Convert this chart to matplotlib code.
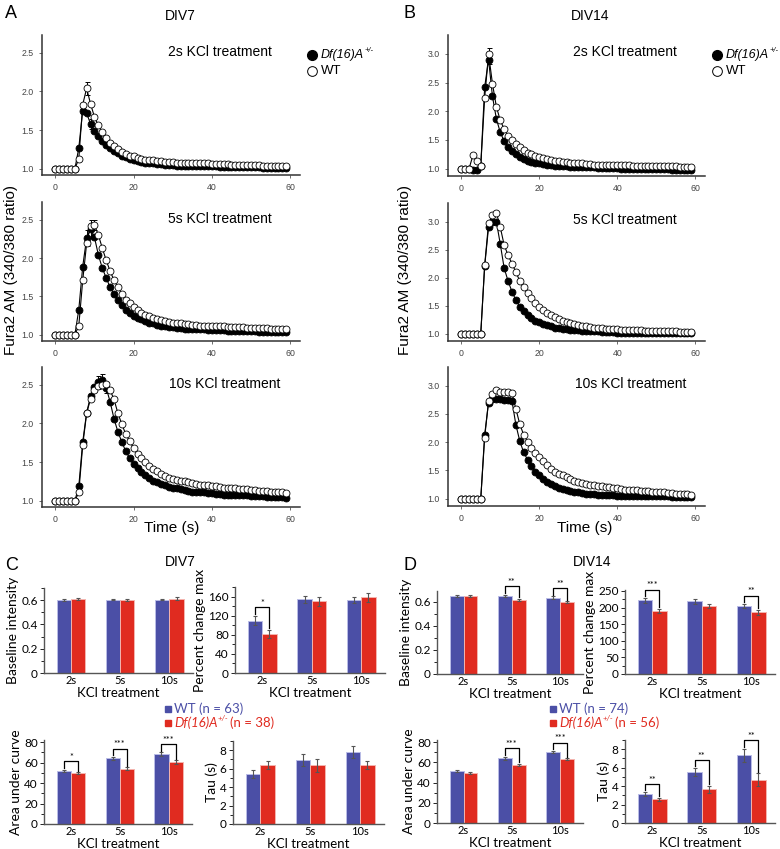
import numpy as np
import matplotlib
matplotlib.use("Agg")
import matplotlib.pyplot as plt
from matplotlib.lines import Line2D
from matplotlib.ticker import MultipleLocator, FuncFormatter

plt.rcParams['font.family'] = ['Liberation Sans', 'DejaVu Sans']

# ---- calcium traces (Fura2 ratio), one point per second ----
time = np.arange(60)

a2_wt = [1.0, 1.0, 1.0, 1.0, 1.0, 1.0, 1.13, 1.83, 2.04, 1.84, 1.67, 1.56, 1.47, 1.40, 1.34, 1.29, 1.25, 1.22, 1.19, 1.17,
         1.16, 1.14, 1.13, 1.12, 1.11, 1.11, 1.10, 1.10, 1.09, 1.09, 1.09, 1.08, 1.08, 1.08, 1.07, 1.07, 1.07, 1.07, 1.07, 1.07,
         1.06, 1.06, 1.06, 1.06, 1.06, 1.05, 1.05, 1.05, 1.05, 1.05, 1.05, 1.05, 1.05, 1.04, 1.04, 1.04, 1.04, 1.04, 1.04, 1.04]
a2_df = [1.0, 1.0, 1.0, 1.0, 1.0, 1.0, 1.27, 1.75, 1.72, 1.58, 1.49, 1.42, 1.36, 1.31, 1.27, 1.23, 1.20, 1.17, 1.15, 1.13,
         1.12, 1.10, 1.09, 1.08, 1.08, 1.07, 1.06, 1.06, 1.05, 1.05, 1.05, 1.04, 1.04, 1.04, 1.04, 1.03, 1.03, 1.03, 1.03, 1.03,
         1.03, 1.03, 1.02, 1.02, 1.02, 1.02, 1.02, 1.02, 1.02, 1.02, 1.02, 1.02, 1.02, 1.01, 1.01, 1.01, 1.01, 1.01, 1.01, 1.01]
a5_wt = [1.0, 1.0, 1.0, 1.0, 1.0, 1.0, 1.12, 1.71, 2.19, 2.42, 2.43, 2.30, 2.13, 1.97, 1.83, 1.71, 1.62, 1.53, 1.46, 1.41,
         1.36, 1.32, 1.29, 1.26, 1.24, 1.22, 1.20, 1.19, 1.18, 1.17, 1.16, 1.15, 1.15, 1.14, 1.14, 1.13, 1.13, 1.12, 1.12, 1.12,
         1.11, 1.11, 1.11, 1.11, 1.10, 1.10, 1.10, 1.10, 1.10, 1.09, 1.09, 1.09, 1.09, 1.09, 1.09, 1.08, 1.08, 1.08, 1.08, 1.08]
a5_df = [1.0, 1.0, 1.0, 1.0, 1.0, 1.0, 1.33, 1.89, 2.26, 2.38, 2.27, 2.04, 1.87, 1.74, 1.62, 1.53, 1.45, 1.39, 1.33, 1.29,
         1.25, 1.22, 1.20, 1.18, 1.16, 1.15, 1.13, 1.12, 1.11, 1.10, 1.10, 1.09, 1.09, 1.08, 1.08, 1.07, 1.07, 1.07, 1.07, 1.06,
         1.06, 1.06, 1.06, 1.06, 1.05, 1.05, 1.05, 1.05, 1.05, 1.05, 1.05, 1.05, 1.04, 1.04, 1.04, 1.04, 1.04, 1.04, 1.04, 1.04]
a10_wt = [1.0, 1.0, 1.0, 1.0, 1.0, 1.0, 1.11, 1.72, 2.13, 2.32, 2.43, 2.48, 2.50, 2.51, 2.43, 2.31, 2.13, 1.99, 1.86, 1.77,
          1.68, 1.61, 1.55, 1.50, 1.45, 1.41, 1.38, 1.35, 1.32, 1.30, 1.28, 1.27, 1.26, 1.25, 1.24, 1.23, 1.22, 1.21, 1.21, 1.20,
          1.19, 1.19, 1.18, 1.17, 1.17, 1.16, 1.16, 1.15, 1.15, 1.15, 1.14, 1.14, 1.13, 1.13, 1.13, 1.12, 1.12, 1.11, 1.11, 1.10]
a10_df = [1.0, 1.0, 1.0, 1.0, 1.0, 1.0, 1.19, 1.76, 2.14, 2.35, 2.47, 2.53, 2.56, 2.46, 2.28, 2.06, 1.89, 1.76, 1.64, 1.55,
          1.48, 1.42, 1.37, 1.33, 1.29, 1.26, 1.24, 1.22, 1.20, 1.18, 1.17, 1.16, 1.15, 1.14, 1.13, 1.12, 1.12, 1.11, 1.11, 1.10,
          1.10, 1.09, 1.09, 1.08, 1.08, 1.08, 1.07, 1.07, 1.07, 1.07, 1.06, 1.06, 1.06, 1.06, 1.05, 1.05, 1.05, 1.05, 1.05, 1.04]

b2_wt = [1.0, 1.0, 1.0, 1.23, 1.14, 1.05, 2.23, 3.00, 2.48, 2.08, 1.84, 1.69, 1.57, 1.49, 1.42, 1.37, 1.32, 1.28, 1.25, 1.22,
         1.20, 1.18, 1.16, 1.15, 1.14, 1.13, 1.12, 1.11, 1.10, 1.10, 1.09, 1.09, 1.08, 1.08, 1.07, 1.07, 1.07, 1.07, 1.06, 1.06,
         1.06, 1.06, 1.06, 1.06, 1.05, 1.05, 1.05, 1.05, 1.05, 1.05, 1.05, 1.04, 1.04, 1.04, 1.04, 1.04, 1.03, 1.03, 1.03, 1.03]
b2_df = [1.0, 1.0, 1.0, 0.98, 0.98, 1.05, 2.42, 2.90, 2.26, 1.87, 1.63, 1.48, 1.37, 1.30, 1.25, 1.21, 1.17, 1.14, 1.12, 1.10,
         1.09, 1.08, 1.07, 1.06, 1.05, 1.05, 1.04, 1.04, 1.03, 1.03, 1.03, 1.02, 1.02, 1.02, 1.02, 1.01, 1.01, 1.01, 1.01, 1.01,
         1.01, 1.00, 1.00, 1.00, 1.00, 1.00, 0.99, 0.99, 0.99, 0.99, 0.99, 0.99, 0.99, 0.99, 0.98, 0.98, 0.98, 0.98, 0.98, 0.98]
b5_wt = [1.0, 1.0, 1.0, 1.0, 1.0, 1.0, 2.22, 2.97, 3.11, 3.16, 2.90, 2.58, 2.40, 2.25, 2.10, 1.94, 1.83, 1.72, 1.63, 1.55,
         1.48, 1.42, 1.37, 1.33, 1.29, 1.26, 1.23, 1.21, 1.19, 1.17, 1.15, 1.14, 1.13, 1.12, 1.11, 1.10, 1.10, 1.09, 1.09, 1.08,
         1.08, 1.07, 1.07, 1.07, 1.06, 1.06, 1.06, 1.05, 1.05, 1.05, 1.05, 1.04, 1.04, 1.04, 1.04, 1.04, 1.03, 1.03, 1.03, 1.03]
b5_df = [1.0, 1.0, 1.0, 1.0, 1.0, 1.0, 2.20, 2.90, 3.00, 3.00, 2.60, 2.17, 1.94, 1.75, 1.60, 1.48, 1.40, 1.33, 1.28, 1.23,
         1.20, 1.17, 1.15, 1.13, 1.11, 1.10, 1.09, 1.08, 1.07, 1.06, 1.06, 1.05, 1.05, 1.04, 1.04, 1.04, 1.03, 1.03, 1.03, 1.03,
         1.02, 1.02, 1.02, 1.02, 1.02, 1.02, 1.02, 1.02, 1.02, 1.02, 1.02, 1.02, 1.02, 1.01, 1.01, 1.01, 1.01, 1.01, 1.01, 1.01]
b10_wt = [1.0, 1.0, 1.0, 1.0, 1.0, 1.0, 2.08, 2.73, 2.86, 2.93, 2.89, 2.88, 2.88, 2.87, 2.59, 2.32, 2.13, 2.01, 1.90, 1.81,
          1.74, 1.66, 1.59, 1.53, 1.48, 1.44, 1.41, 1.38, 1.35, 1.32, 1.29, 1.28, 1.26, 1.25, 1.24, 1.23, 1.22, 1.21, 1.20, 1.19,
          1.18, 1.17, 1.16, 1.16, 1.15, 1.15, 1.14, 1.13, 1.13, 1.12, 1.12, 1.11, 1.11, 1.10, 1.10, 1.09, 1.09, 1.08, 1.08, 1.07]
b10_df = [1.0, 1.0, 1.0, 1.0, 1.0, 1.0, 2.13, 2.70, 2.76, 2.76, 2.76, 2.75, 2.75, 2.73, 2.31, 2.02, 1.82, 1.69, 1.57, 1.48,
          1.41, 1.35, 1.30, 1.26, 1.22, 1.19, 1.17, 1.15, 1.13, 1.12, 1.11, 1.10, 1.09, 1.08, 1.08, 1.07, 1.07, 1.06, 1.06, 1.06,
          1.05, 1.05, 1.05, 1.05, 1.05, 1.05, 1.04, 1.04, 1.04, 1.04, 1.04, 1.04, 1.04, 1.04, 1.03, 1.03, 1.03, 1.03, 1.03, 1.03]

# SEM shown only where it sticks out of the markers: (series, second, sem)
a2_err = [("wt", 8, 0.08), ("df", 9, 0.07)]
a5_err = [("df", 9, 0.12), ("wt", 10, 0.07), ("df", 8, 0.1)]
a10_err = [("df", 12, 0.08), ("df", 11, 0.08), ("df", 13, 0.07)]
b2_err = [("wt", 7, 0.1), ("df", 7, 0.08)]

# ---- bar summaries ----
groups = ["2s", "5s", "10s"]

c_base_wt, c_base_wt_e = [0.600, 0.605, 0.605], [0.008, 0.006, 0.006]
c_base_df, c_base_df_e = [0.610, 0.600, 0.610], [0.010, 0.010, 0.012]
c_pct_wt, c_pct_wt_e = [110, 155, 154], [10, 8, 7]
c_pct_df, c_pct_df_e = [82, 151, 159], [9, 10, 9]
c_auc_wt, c_auc_wt_e = [52, 64, 68], [1.0, 1.5, 2.0]
c_auc_df, c_auc_df_e = [49.5, 54, 60.5], [1.0, 1.2, 1.5]
c_tau_wt, c_tau_wt_e = [5.4, 6.9, 7.85], [0.45, 0.65, 0.65]
c_tau_df, c_tau_df_e = [6.4, 6.35, 6.4], [0.45, 0.75, 0.45]

d_base_wt, d_base_wt_e = [0.645, 0.650, 0.635], [0.008, 0.010, 0.010]
d_base_df, d_base_df_e = [0.650, 0.615, 0.595], [0.010, 0.008, 0.008]
d_pct_wt, d_pct_wt_e = [222, 219, 205], [7, 7, 6]
d_pct_df, d_pct_df_e = [190, 205, 186], [7, 6, 7]
d_auc_wt, d_auc_wt_e = [51.5, 64, 70], [1.2, 1.5, 1.2]
d_auc_df, d_auc_df_e = [49.5, 57.5, 63], [0.6, 1.0, 1.0]
d_tau_wt, d_tau_wt_e = [3.15, 5.5, 7.35], [0.2, 0.45, 0.7]
d_tau_df, d_tau_df_e = [2.55, 3.65, 4.7], [0.15, 0.35, 0.7]

c_base_sig, c_pct_sig, c_auc_sig, c_tau_sig = ["", "", ""], ["*", "", ""], ["*", "***", "***"], ["", "", ""]
d_base_sig, d_pct_sig, d_auc_sig, d_tau_sig = ["", "**", "**"], ["***", "", "**"], ["", "***", "***"], ["**", "**", "**"]

c_n = (63, 38)
d_n = (74, 56)

BLUE = "#4b4fa6"
BLUE_EDGE = "#b9bce6"
RED = "#e02b20"
RED_EDGE = "#f4b4ae"
BAR_FONT = ["Lato", "DejaVu Sans"]

W, H = 780, 849
fig = plt.figure(figsize=(W / 100, H / 100), dpi=100)
renderer = fig.canvas.get_renderer()


def px_axes(left, top, right, bottom):
    return fig.add_axes([left / W, 1 - bottom / H, (right - left) / W, (bottom - top) / H])


def df_label(x, y, size, color="black", suffix="", family=None):
    # italic "Df(16)A" with a small "+/-" superscript, then optional plain text
    kw = dict(fontsize=size, color=color, va="center")
    if family:
        kw["family"] = family
    t = fig.text(x / W, 1 - y / H, "Df(16)A", style="italic", **kw)
    x1 = t.get_window_extent(renderer).x1
    sup = fig.text((x1 + 0.5) / W, 1 - (y - size * 0.45) / H, "+/-", style="italic",
                   **dict(kw, fontsize=size * 0.6))
    if suffix:
        x2 = sup.get_window_extent(renderer).x1
        fig.text((x2 + 1) / W, 1 - y / H, suffix, **kw)


def trace(rect, wt, df, ylim, ymax_tick, title, title_x, errs):
    ax = px_axes(*rect)
    for who, t, e in errs:
        src = wt if who == "wt" else df
        ax.errorbar(time[t], src[t], yerr=e, color="black", lw=0.7, capsize=1.8, capthick=0.7, zorder=1)
    ax.plot(time, df, "-o", color="black", lw=0.8, ms=5, mfc="black", mec="black", mew=0.6, zorder=2)
    ax.plot(time, wt, "-o", color="black", lw=0.8, ms=5, mfc="white", mec="black", mew=0.6, zorder=3)
    ax.set_xlim(-3.4, 62.5)
    ax.set_ylim(*ylim)
    ax.set_xticks([0, 20, 40, 60])
    ax.set_yticks(np.arange(1.0, ymax_tick + 0.01, 0.5))
    ax.yaxis.set_major_formatter(FuncFormatter(lambda v, p: f"{v:.1f}"))
    for s in ("top", "right"):
        ax.spines[s].set_visible(False)
    for s in ("left", "bottom"):
        ax.spines[s].set_linewidth(1.1)
        ax.spines[s].set_color("#333333")
    ax.tick_params(labelsize=6.3, labelcolor="#444444", length=2.5, width=0.6, color="#555555")
    ax.text(title_x, 0.88, title, transform=ax.transAxes, ha="center", va="center", fontsize=10)
    return ax


ylim_a = (0.92, 2.73)
trace((42, 35, 300, 175), a2_wt, a2_df, ylim_a, 2.5, "2s KCl treatment", 0.69, a2_err)
trace((42, 202, 300, 341), a5_wt, a5_df, ylim_a, 2.5, "5s KCl treatment", 0.69, a5_err)
trace((42, 367, 300, 507), a10_wt, a10_df, ylim_a, 2.5, "10s KCl treatment", 0.71, a10_err)
ylim_b = (0.87, 3.33)
trace((448, 35, 705, 176), b2_wt, b2_df, ylim_b, 3.0, "2s KCl treatment", 0.69, b2_err)
trace((448, 203, 705, 341), b5_wt, b5_df, ylim_b, 3.0, "5s KCl treatment", 0.69, [])
trace((448, 367, 705, 506), b10_wt, b10_df, ylim_b, 3.0, "10s KCl treatment", 0.71, [])

for x0 in (312, 717):
    fig.lines.append(Line2D([x0 / W], [1 - 55 / H], marker="o", ms=7, mfc="black", mec="black", transform=fig.transFigure))
    fig.lines.append(Line2D([x0 / W], [1 - 71 / H], marker="o", ms=7, mfc="white", mec="black", mew=0.7, transform=fig.transFigure))
    df_label(x0 + 9, 55, 9)
    fig.text((x0 + 9) / W, 1 - 71 / H, "WT", fontsize=9.5, va="center")

fig.text(5 / W, 1 - 13 / H, "A", fontsize=13, va="center")
fig.text(403 / W, 1 - 13 / H, "B", fontsize=13, va="center")
fig.text(180 / W, 1 - 16 / H, "DIV7", fontsize=10, ha="center", va="center")
fig.text(590 / W, 1 - 16 / H, "DIV14", fontsize=10, ha="center", va="center")
fig.text(11 / W, 1 - 270 / H, "Fura2 AM (340/380 ratio)", fontsize=11, rotation=90, ha="center", va="center")
fig.text(405 / W, 1 - 270 / H, "Fura2 AM (340/380 ratio)", fontsize=11, rotation=90, ha="center", va="center")
fig.text(172 / W, 1 - 528 / H, "Time (s)", fontsize=11, ha="center", va="center")
fig.text(585 / W, 1 - 528 / H, "Time (s)", fontsize=11, ha="center", va="center")


def bars(rect, wt, wt_e, df, df_e, sig, ylim, major, minor, ylabel):
    ax = px_axes(*rect)
    x = np.arange(len(groups))
    bw = 0.29
    ekw = dict(ecolor="#555555", elinewidth=0.8, capsize=1.3, capthick=0.8)
    ax.bar(x - bw / 2, wt, bw, color=BLUE, edgecolor=BLUE_EDGE, lw=0.7, yerr=wt_e, error_kw=ekw)
    ax.bar(x + bw / 2, df, bw, color=RED, edgecolor=RED_EDGE, lw=0.7, yerr=df_e, error_kw=ekw)
    span = ylim[1] - ylim[0]
    for i, s in enumerate(sig):
        if not s:
            continue
        t1 = wt[i] + wt_e[i] + 0.02 * span
        t2 = df[i] + df_e[i] + 0.02 * span
        top = max(t1, t2) + 0.08 * span
        ax.plot([i - bw / 2, i - bw / 2, i + bw / 2, i + bw / 2], [t1, top, top, t2],
                color="black", lw=0.9, clip_on=False)
        ax.text(i, top - 0.01 * span, s, ha="center", va="bottom", fontsize=6.5, family=BAR_FONT, clip_on=False)
    ax.set_xlim(-0.55, 2.48)
    ax.set_ylim(*ylim)
    ax.set_xticks(x)
    ax.set_xticklabels(groups, family=BAR_FONT)
    ax.yaxis.set_major_locator(MultipleLocator(major))
    ax.yaxis.set_minor_locator(MultipleLocator(minor))
    ax.yaxis.set_major_formatter(FuncFormatter(lambda v, p: f"{v:g}"))
    for lab in ax.get_yticklabels():
        lab.set_family(BAR_FONT)
    for s in ("top", "right"):
        ax.spines[s].set_visible(False)
    for s in ("left", "bottom"):
        ax.spines[s].set_linewidth(1.0)
        ax.spines[s].set_color("#555555")
    ax.tick_params(axis="x", length=0, labelsize=8, pad=1.5)
    ax.tick_params(axis="y", which="major", length=3, width=0.6, labelsize=8.5, pad=1.5)
    ax.tick_params(axis="y", which="minor", length=2, width=0.6)
    ax.set_ylabel(ylabel, fontsize=10, family=BAR_FONT, labelpad=1.5)
    ax.set_xlabel("KCl treatment", fontsize=9.5, family=BAR_FONT, labelpad=0.5)
    return ax


bars((44, 588, 193, 673), c_base_wt, c_base_wt_e, c_base_df, c_base_df_e, c_base_sig, (0, 0.7), 0.2, 0.1, "Baseline intensity")
bars((235, 587, 385, 673), c_pct_wt, c_pct_wt_e, c_pct_df, c_pct_df_e, c_pct_sig, (0, 181), 40, 20, "Percent change max")
bars((44, 740, 192, 824), c_auc_wt, c_auc_wt_e, c_auc_df, c_auc_df_e, c_auc_sig, (0, 82), 20, 10, "Area under curve")
bars((233, 741, 384, 824), c_tau_wt, c_tau_wt_e, c_tau_df, c_tau_df_e, c_tau_sig, (0, 9), 2, 1, "Tau (s)")

bars((437, 591, 583, 674), d_base_wt, d_base_wt_e, d_base_df, d_base_df_e, d_base_sig, (0, 0.69), 0.2, 0.1, "Baseline intensity")
bars((625, 590, 775, 674), d_pct_wt, d_pct_wt_e, d_pct_df, d_pct_df_e, d_pct_sig, (0, 253), 50, 25, "Percent change max")
bars((437, 740, 583, 823), d_auc_wt, d_auc_wt_e, d_auc_df, d_auc_df_e, d_auc_sig, (0, 82), 20, 10, "Area under curve")
bars((625, 740, 775, 823), d_tau_wt, d_tau_wt_e, d_tau_df, d_tau_df_e, d_tau_sig, (0, 9), 2, 1, "Tau (s)")

fig.text(5 / W, 1 - 565 / H, "C", fontsize=13, va="center")
fig.text(403 / W, 1 - 565 / H, "D", fontsize=13, va="center")
fig.text(180 / W, 1 - 562 / H, "DIV7", fontsize=10, ha="center", va="center")
fig.text(592 / W, 1 - 562 / H, "DIV14", fontsize=10, ha="center", va="center")

for x0, (n_wt, n_df) in ((168, c_n), (553, d_n)):
    fig.lines.append(Line2D([x0 / W], [1 - 709 / H], marker="s", ms=5, mfc=BLUE, mec=BLUE, transform=fig.transFigure))
    fig.lines.append(Line2D([x0 / W], [1 - 723 / H], marker="s", ms=5, mfc=RED, mec=RED, transform=fig.transFigure))
    fig.text((x0 + 6) / W, 1 - 709 / H, f"WT (n = {n_wt})", fontsize=9.5, color=BLUE, va="center", family=BAR_FONT)
    df_label(x0 + 6, 723, 9.5, color=RED, suffix=f"(n = {n_df})", family=BAR_FONT)

fig.savefig("out.png", dpi=100)
